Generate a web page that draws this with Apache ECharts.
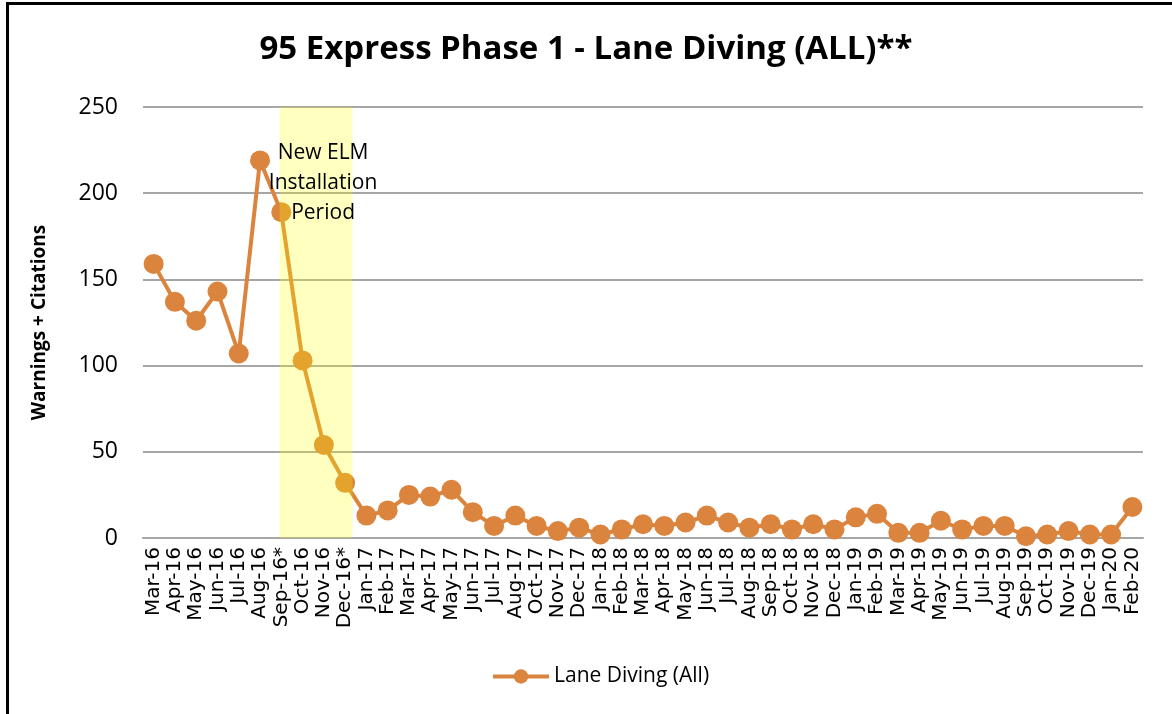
<!DOCTYPE html>
<html>
<head>
<meta charset="utf-8">
<script src="https://cdn.jsdelivr.net/npm/echarts@6/dist/echarts.min.js"></script>
<style>
  html, body { margin: 0; padding: 0; background: #fff; overflow: hidden; }
  .frame {
    position: absolute; left: 6px; top: 2px; width: 1300px; height: 900px;
    border: 3px solid #000; box-sizing: border-box;
  }
  #chart { position: absolute; left: 0; top: 0; width: 1172px; height: 714px; }
</style>
</head>
<body>
<div class="frame"></div>
<div id="chart"></div>
<script>
const months = [
  'Mar-16', 'Apr-16', 'May-16', 'Jun-16', 'Jul-16', 'Aug-16', 'Sep-16*', 'Oct-16', 'Nov-16', 'Dec-16*',
  'Jan-17', 'Feb-17', 'Mar-17', 'Apr-17', 'May-17', 'Jun-17', 'Jul-17', 'Aug-17', 'Oct-17', 'Nov-17', 'Dec-17',
  'Jan-18', 'Feb-18', 'Mar-18', 'Apr-18', 'May-18', 'Jun-18', 'Jul-18', 'Aug-18', 'Sep-18', 'Oct-18', 'Nov-18', 'Dec-18',
  'Jan-19', 'Feb-19', 'Mar-19', 'Apr-19', 'May-19', 'Jun-19', 'Jul-19', 'Aug-19', 'Sep-19', 'Oct-19', 'Nov-19', 'Dec-19',
  'Jan-20', 'Feb-20'
]
const laneDiving = [
  159, 137, 126, 143, 107, 219, 189, 103, 54, 32,
  13, 16, 25, 24, 28, 15, 7, 13, 7, 4, 6,
  2, 5, 8, 7, 9, 13, 9, 6, 8, 5, 8, 5,
  12, 14, 3, 3, 10, 5, 7, 7, 1, 2, 4, 2,
  2, 18
]
// installation period band, in category-slot units (0 = left edge of Mar-16)
const bandStart = 6.42
const bandEnd = 9.85
const yTicks = { min: 0, max: 250, interval: 50 }

const chart = echarts.init(document.getElementById('chart'))
const orange = '#DB843D'
const gridGray = '#A6A6A6'

chart.setOption({
  animation: false,
  title: {
    text: '95 Express Phase 1 - Lane Diving (ALL)**',
    left: 'center',
    top: 28,
    textStyle: { fontFamily: 'Open Sans', fontWeight: 'bold', fontSize: 33, color: '#000' }
  },
  legend: {
    data: ['Lane Diving (All)'],
    bottom: 22,
    left: 486,
    itemWidth: 56,
    itemHeight: 18,
    itemGap: 6,
    lineStyle: { width: 4 },
    textStyle: { fontFamily: 'Open Sans', fontSize: 21, color: '#000' }
  },
  grid: { left: 143, right: 29, top: 107, bottom: 176 },
  xAxis: [
    {
      type: 'category',
      data: months,
      boundaryGap: true,
      axisLine: { show: true, lineStyle: { color: gridGray, width: 2 } },
      axisTick: { show: false },
      axisLabel: {
        rotate: 90, interval: 0, margin: 9,
        fontFamily: 'DejaVu Sans', fontSize: 20, color: '#000'
      }
    },
    { type: 'value', min: 0, max: 47, show: false }
  ],
  yAxis: {
    type: 'value',
    min: yTicks.min,
    max: yTicks.max,
    interval: yTicks.interval,
    name: 'Warnings + Citations',
    nameLocation: 'middle',
    nameGap: 94,
    nameTextStyle: { fontFamily: 'Open Sans', fontWeight: 'bold', fontSize: 19, color: '#000' },
    axisLine: { show: false },
    axisTick: { show: false },
    axisLabel: { margin: 25, fontFamily: 'Open Sans', fontSize: 23, color: '#000' },
    splitLine: { lineStyle: { color: gridGray, width: 2 } }
  },
  series: [
    {
      name: 'Lane Diving (All)',
      type: 'line',
      data: laneDiving,
      z: 2,
      symbol: 'circle',
      symbolSize: 20,
      lineStyle: { color: orange, width: 4 },
      itemStyle: { color: orange }
    },
    {
      name: 'band',
      type: 'line',
      xAxisIndex: 1,
      data: [],
      z: 5,
      markArea: {
        silent: true,
        z: 5,
        itemStyle: { color: 'rgba(255,255,0,0.25)' },
        label: {
          show: true,
          position: 'insideTop',
          distance: 31,
          offset: [7, 0],
          formatter: 'New ELM\nInstallation\nPeriod',
          fontFamily: 'Open Sans',
          fontSize: 21,
          lineHeight: 30,
          color: '#000'
        },
        data: [[{ xAxis: bandStart, yAxis: yTicks.min }, { xAxis: bandEnd, yAxis: yTicks.max }]]
      }
    }
  ]
})
</script>
</body>
</html>
